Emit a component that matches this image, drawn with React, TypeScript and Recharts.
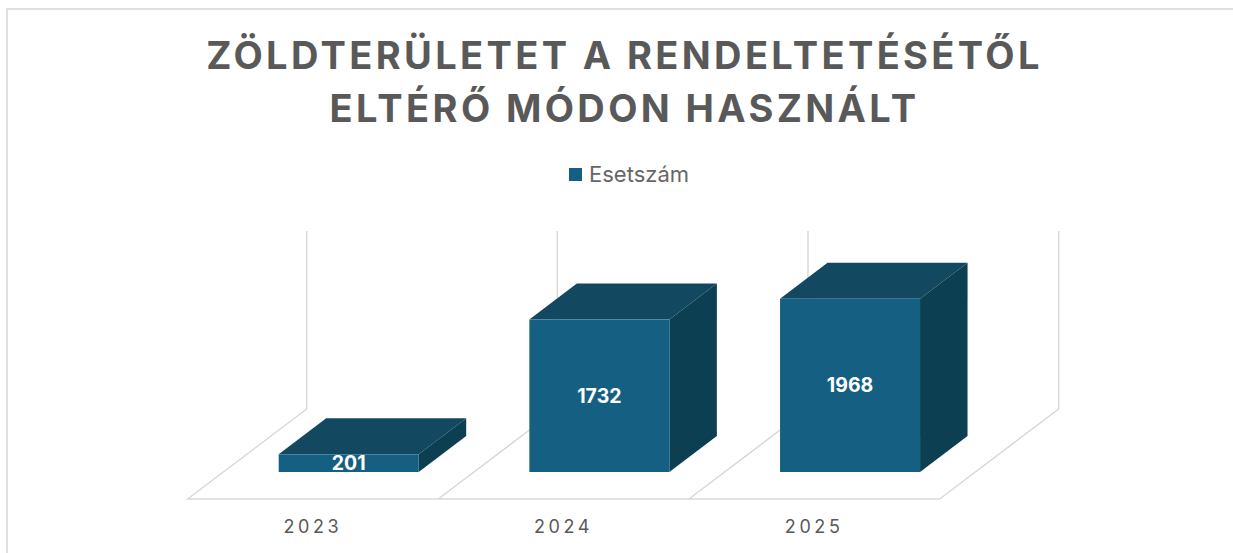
import { BarChart, Bar, XAxis, YAxis, Legend, LabelList } from "recharts"

const YEARS = ["2023", "2024", "2025"]
const CASES = [201, 1732, 1968]
const SERIES_NAME = "Esetszám"
const TITLE_LINES = ["ZÖLDTERÜLETET A RENDELTETÉSÉTŐL", "ELTÉRŐ MÓDON HASZNÁLT"]

const rows = YEARS.map((year, i) => ({ year, cases: CASES[i] }))

const FONT = "Inter, sans-serif"
const FRONT = "#156082"
const TOP = "#124860"
const SIDE = "#0d3f52"
const GRID = "#d9d9d9"

// fake 3D: depth of the bar and of the floor cell it stands on
const DEPTH_X = 47.5
const DEPTH_Y = 36
const BAND_W = 250.67
const FLOOR_DX = 119
const FLOOR_DY = 90
const FLOOR_FRONT_X = 35.7
const FLOOR_FRONT_Y = 27
const WALL_H = 178

function Cuboid(props: any) {
  const { x, y, width, height, index } = props
  const base = y + height
  const cellX = x + width / 2 - BAND_W / 2
  const frontY = base + FLOOR_FRONT_Y
  const left = cellX - FLOOR_FRONT_X
  const right = left + BAND_W
  const backY = frontY - FLOOR_DY
  const line = { stroke: GRID, strokeWidth: 1.5, fill: "none" }
  return (
    <g>
      <polyline
        {...line}
        points={`${left + FLOOR_DX},${backY - WALL_H} ${left + FLOOR_DX},${backY} ${left},${frontY} ${right},${frontY}`}
      />
      {index === YEARS.length - 1 ? (
        <polyline
          {...line}
          points={`${right},${frontY} ${right + FLOOR_DX},${backY} ${right + FLOOR_DX},${backY - WALL_H}`}
        />
      ) : null}
      <polygon
        fill={TOP}
        points={`${x},${y} ${x + DEPTH_X},${y - DEPTH_Y} ${x + width + DEPTH_X},${y - DEPTH_Y} ${x + width},${y}`}
      />
      <polygon
        fill={SIDE}
        points={`${x + width},${y} ${x + width + DEPTH_X},${y - DEPTH_Y} ${x + width + DEPTH_X},${base - DEPTH_Y} ${x + width},${base}`}
      />
      <rect x={x} y={y} width={width} height={height} fill={FRONT} />
    </g>
  )
}

function YearTick(props: any) {
  const { x, payload } = props
  return (
    <text
      x={x - FLOOR_FRONT_X - 0.5}
      y={533}
      textAnchor="middle"
      fill="#595959"
      fontFamily={FONT}
      fontSize={18}
      letterSpacing={3.6}
    >
      {payload.value}
    </text>
  )
}

function LegendLabel() {
  return (
    <div
      style={{
        display: "flex",
        alignItems: "center",
        justifyContent: "center",
        fontFamily: FONT,
        fontSize: 22,
        color: "#666666",
      }}
    >
      <span style={{ width: 13, height: 13, background: FRONT, marginRight: 7 }} />
      {SERIES_NAME}
    </div>
  )
}

export default function App() {
  return (
    <div style={{ position: "absolute", left: 0, top: 0, width: 1233, height: 553, background: "#fff", overflow: "hidden" }}>
      <div
        style={{
          position: "absolute",
          left: 6,
          top: 8,
          width: 1300,
          height: 560,
          borderLeft: "2px solid #e0e0e0",
          borderTop: "2px solid #e0e0e0",
        }}
      />
      <div
        style={{
          position: "absolute",
          left: 0,
          top: 29,
          width: 1249,
          textAlign: "center",
          fontFamily: FONT,
          fontWeight: 700,
          fontSize: 38,
          lineHeight: "53px",
          letterSpacing: 3.37,
          color: "#595959",
        }}
      >
        {TITLE_LINES.map((t) => (
          <div key={t}>{t}</div>
        ))}
      </div>
      <div style={{ position: "absolute", left: 0, top: 0 }}>
        <BarChart
          width={1233}
          height={553}
          data={rows}
          margin={{ top: 226, right: 257.3, bottom: 51, left: 223.7 }}
        >
          <XAxis dataKey="year" axisLine={false} tickLine={false} tick={<YearTick />} interval={0} />
          <YAxis hide domain={[0, 2500]} />
          <Legend
            verticalAlign="top"
            content={<LegendLabel />}
            wrapperStyle={{ position: "absolute", top: 161, left: 0, width: 1258 }}
          />
          <Bar dataKey="cases" name={SERIES_NAME} barSize={140} shape={<Cuboid />} isAnimationActive={false}>
            <LabelList
              dataKey="cases"
              position="center"
              fill="#ffffff"
              fontFamily={FONT}
              fontWeight={700}
              fontSize={19.5}
            />
          </Bar>
        </BarChart>
      </div>
    </div>
  )
}
